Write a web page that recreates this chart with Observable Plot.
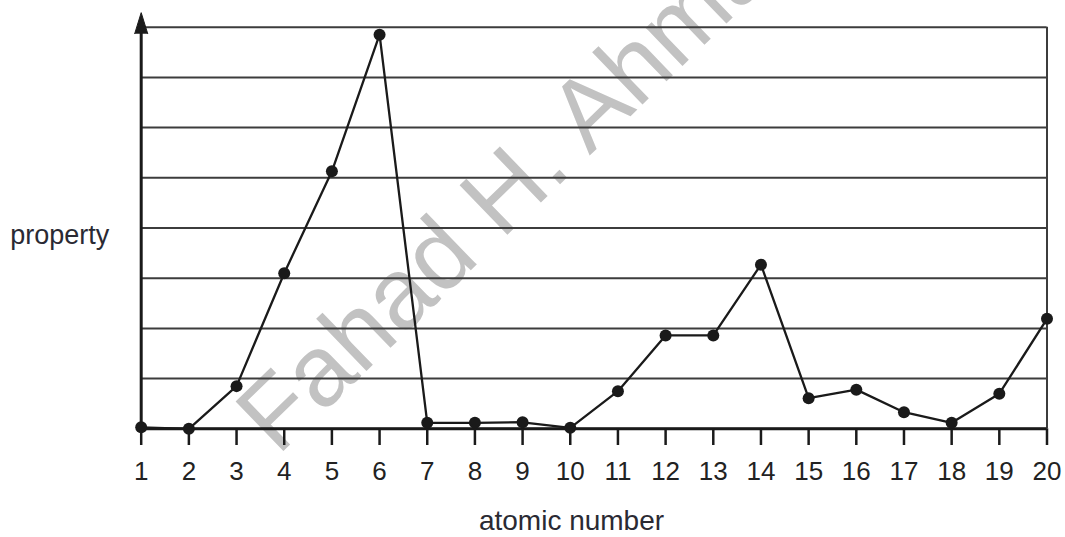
<!DOCTYPE html>
<html>
<head>
<meta charset="utf-8">
<script src="https://cdn.jsdelivr.net/npm/d3@7"></script>
<script src="https://cdn.jsdelivr.net/npm/@observablehq/plot@0.6"></script>
<style>
  html, body { margin: 0; padding: 0; background: #fff; }
  #chart svg { display: block; }
</style>
</head>
<body>
<div id="chart"></div>
<script>
// ---- data ----
const atomicNumbers = [1, 2, 3, 4, 5, 6, 7, 8, 9, 10, 11, 12, 13, 14, 15, 16, 17, 18, 19, 20];
const propertyValues = [0.03, 0, 0.85, 3.10, 5.13, 7.85, 0.12, 0.12, 0.13, 0.02, 0.75, 1.86, 1.86, 3.27, 0.61, 0.78, 0.33, 0.12, 0.70, 2.19];
const gridLevels = [0, 1, 2, 3, 4, 5, 6, 7, 8];
const xTickLabels = atomicNumbers.map(String);
const xTitle = "atomic number";
const yTitle = "property";
const watermarkText = "Fahad H. Ahmad";

const data = atomicNumbers.map((n, i) => ({n, v: propertyValues[i]}));
const axisTop = 8.29;
const ink = "#1a1a1a";
const gridInk = "#3c3c3c";

const chart = Plot.plot({
  width: 1065,
  height: 537,
  marginLeft: 140.7,
  marginRight: 18.5,
  marginTop: 26.7,
  marginBottom: 108.7,
  style: {fontFamily: "'Liberation Sans', Arial, sans-serif", background: "white", overflow: "hidden"},
  x: {domain: [1, 20], axis: null},
  y: {domain: [0, 8], axis: null},
  marks: [
    Plot.text([watermarkText], {
      text: d => d, frameAnchor: "top-left", dx: 384, dy: 146,
      rotate: -44, fontSize: 100, fill: "#c2c2c2", textAnchor: "middle", lineAnchor: "middle"
    }),
    Plot.ruleY(gridLevels, {x1: 1, x2: 20, stroke: gridInk, strokeWidth: 2}),
    Plot.ruleX([20], {y1: 0, y2: 8, stroke: gridInk, strokeWidth: 2}),
    Plot.ruleY([0], {x1: 1, x2: 20, stroke: ink, strokeWidth: 3}),
    Plot.ruleX([1], {y1: 0, y2: axisTop - 0.3, stroke: ink, strokeWidth: 3}),
    Plot.vector([{x: 1, y: axisTop}], {
      x: "x", y: "y", length: 21, rotate: 0, anchor: "end", shape: "spike", r: 6.5,
      fill: ink, stroke: ink, strokeWidth: 1
    }),
    Plot.axisX({
      ticks: atomicNumbers, tickFormat: (d) => xTickLabels[atomicNumbers.indexOf(d)],
      tickSize: 16.7, tickPadding: 16, fontSize: 26, stroke: ink, strokeWidth: 2.5,
      fill: "#222", label: null
    }),
    Plot.line(data, {x: "n", y: "v", stroke: ink, strokeWidth: 2.3}),
    Plot.dot(data, {x: "n", y: "v", r: 6, fill: ink, stroke: null}),
    Plot.text([yTitle], {
      text: d => d, frameAnchor: "left", textAnchor: "start", dx: -131, dy: 7,
      fontSize: 27, fill: "#2a2a33"
    }),
    Plot.text([xTitle], {
      text: d => d, frameAnchor: "bottom", dx: -22.6, dy: 101,
      fontSize: 28, fill: "#2a2a33"
    })
  ]
});
document.getElementById("chart").appendChild(chart);
</script>
</body>
</html>
